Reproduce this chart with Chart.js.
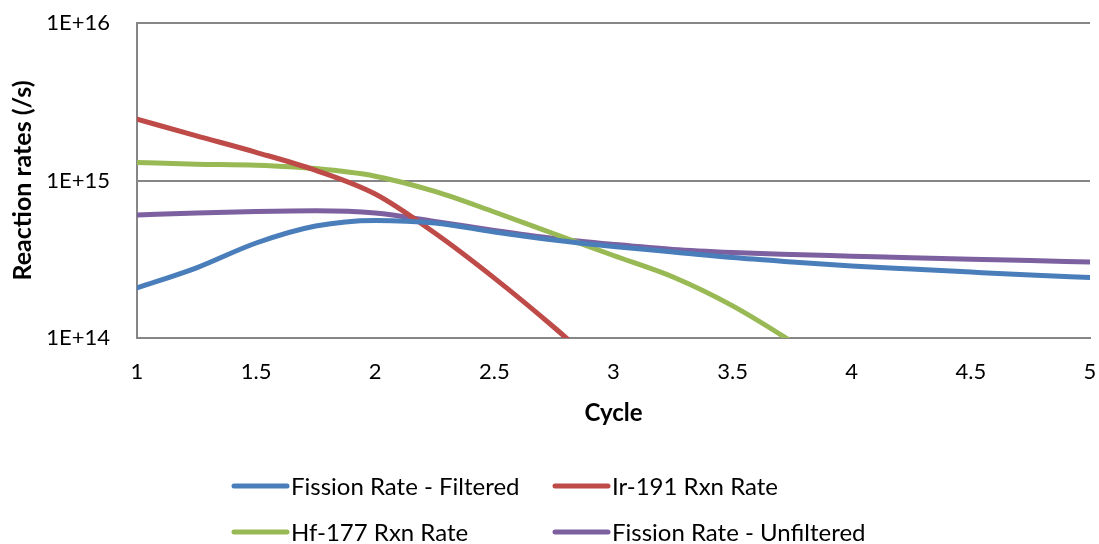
<!DOCTYPE html>
<html>
<head>
<meta charset="utf-8">
<script src="https://cdn.jsdelivr.net/npm/chart.js@4/dist/chart.umd.min.js"></script>
<style>
  html, body { margin: 0; padding: 0; background: #ffffff; }
  #wrap { width: 1099px; height: 544px; position: relative; }
</style>
</head>
<body>
<div id="wrap"><canvas id="c" width="1099" height="544"></canvas></div>
<script>
// Cycle positions where the rates were sampled
const cycles = [1, 1.25, 1.5, 1.75, 2, 2.25, 2.5, 2.75, 3, 3.25, 3.5, 3.75, 4, 4.25, 4.5, 4.75, 5];

// Reaction rates (/s) per cycle
const fissionFiltered = [2.08e14, 2.79e14, 4.01e14, 5.14e14, 5.58e14, 5.37e14, 4.71e14, 4.19e14, 3.81e14,
                         3.52e14, 3.24e14, 3.04e14, 2.87e14, 2.74e14, 2.62e14, 2.51e14, 2.42e14];
const ir191Rate = [2.45e15, 1.92e15, 1.51e15, 1.16e15, 8.2e14, 4.64e14, 2.40e14, 1.17e14, 5.4e13];
const hf177Rate = [1.30e15, 1.27e15, 1.25e15, 1.19e15, 1.065e15, 8.53e14, 6.31e14, 4.59e14, 3.34e14,
                   2.44e14, 1.60e14, 9.44e13, 5.26e13];
const fissionUnfiltered = [6.04e14, 6.22e14, 6.36e14, 6.43e14, 6.22e14, 5.50e14, 4.82e14, 4.29e14, 3.93e14,
                           3.65e14, 3.49e14, 3.39e14, 3.31e14, 3.23e14, 3.16e14, 3.10e14, 3.04e14];

const seriesNames = ['Fission Rate - Filtered', 'Ir-191 Rxn Rate', 'Hf-177 Rxn Rate', 'Fission Rate - Unfiltered'];
const seriesColors = ['#4A7EBB', '#BE4B48', '#98B954', '#7D60A0'];

// Axis ticks
const xTicks = [1, 1.5, 2, 2.5, 3, 3.5, 4, 4.5, 5];
const xTickLabels = ['1', '1.5', '2', '2.5', '3', '3.5', '4', '4.5', '5'];
const yTicks = [1e14, 1e15, 1e16];
const yTickLabels = ['1E+14', '1E+15', '1E+16'];

const FONT = 'Lato, "Open Sans", sans-serif';

function toPoints(values) {
  return values.map((v, i) => ({ x: cycles[i], y: v }));
}

const seriesValues = [fissionFiltered, ir191Rate, hf177Rate, fissionUnfiltered];

// Legend laid out as a two-column grid below the axis
const gridLegend = {
  id: 'gridLegend',
  afterDraw(chart) {
    const ctx = chart.ctx;
    const colX = [232, 553];
    const rowY = [486, 532];
    const lineLen = 55;
    ctx.save();
    ctx.font = '24px ' + FONT;
    ctx.textBaseline = 'middle';
    ctx.textAlign = 'left';
    chart.data.datasets.forEach((ds, i) => {
      const x = colX[i % 2];
      const y = rowY[Math.floor(i / 2)];
      ctx.strokeStyle = ds.borderColor;
      ctx.lineWidth = 5;
      ctx.lineCap = 'round';
      ctx.beginPath();
      ctx.moveTo(x + 2, y);
      ctx.lineTo(x + lineLen, y);
      ctx.stroke();
      ctx.fillStyle = '#000000';
      ctx.fillText(ds.label, x + lineLen + 4, y + 1);
    });
    ctx.restore();
  }
};

new Chart(document.getElementById('c'), {
  type: 'line',
  data: {
    datasets: seriesNames.map((name, i) => ({
      label: name,
      data: toPoints(seriesValues[i]),
      borderColor: seriesColors[i],
      backgroundColor: seriesColors[i],
      borderWidth: 5,
      borderCapStyle: 'round',
      pointRadius: 0,
      pointHoverRadius: 0,
      cubicInterpolationMode: 'monotone',
      fill: false
    }))
  },
  options: {
    responsive: false,
    animation: false,
    events: [],
    layout: { padding: { top: 23, right: 9, left: 0, bottom: 116 } },
    plugins: {
      legend: { display: false },
      tooltip: { enabled: false }
    },
    scales: {
      x: {
        type: 'linear',
        min: 1,
        max: 5,
        afterBuildTicks(scale) { scale.ticks = xTicks.map(v => ({ value: v })); },
        afterFit(scale) {
          scale.height = 90;
          scale.paddingLeft = 0;
          scale.paddingRight = 0;
        },
        ticks: {
          autoSkip: false,
          maxRotation: 0,
          padding: 21,
          color: '#000000',
          font: { family: FONT, size: 22 },
          callback(value) { return xTickLabels[xTicks.indexOf(value)]; }
        },
        grid: { display: false, drawTicks: false },
        border: { display: true, color: '#868686', width: 2 },
        title: {
          display: true,
          text: 'Cycle',
          color: '#000000',
          font: { family: FONT, size: 24, weight: 'bold' },
          padding: { top: 14, bottom: 0 }
        }
      },
      y: {
        type: 'logarithmic',
        min: 1e14,
        max: 1e16,
        afterBuildTicks(scale) { scale.ticks = yTicks.map(v => ({ value: v })); },
        afterFit(scale) {
          scale.width = 137;
          scale.paddingTop = 0;
          scale.paddingBottom = 0;
        },
        ticks: {
          padding: 27,
          color: '#000000',
          font: { family: FONT, size: 22 },
          callback(value) { return yTickLabels[yTicks.indexOf(value)]; }
        },
        grid: { color: '#868686', lineWidth: 2, drawTicks: false },
        border: { display: true, color: '#868686', width: 2 },
        title: {
          display: true,
          text: 'Reaction rates (/s)',
          color: '#000000',
          font: { family: FONT, size: 25, weight: 'bold' },
          padding: { top: 8, bottom: 0 }
        }
      }
    }
  },
  plugins: [gridLegend]
});
</script>
</body>
</html>
